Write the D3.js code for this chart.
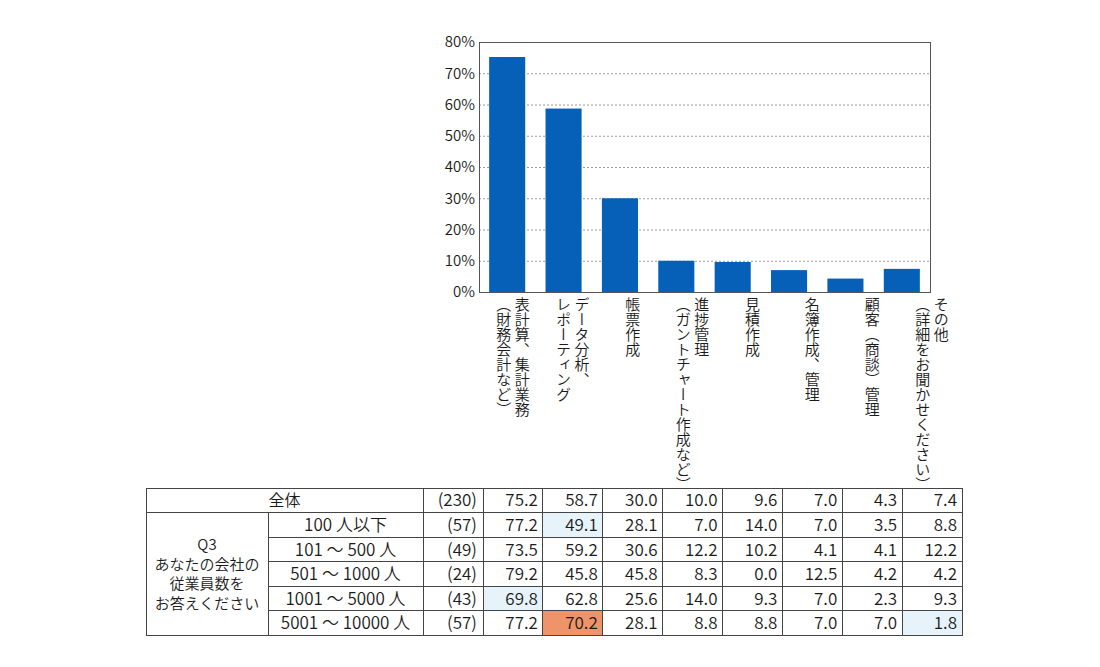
<!DOCTYPE html>
<html>
<head>
<meta charset="utf-8">
<script src="https://cdn.jsdelivr.net/npm/d3@7"></script>
<style>
  body { margin: 0; background: #fff; }
  svg text { font-family: "Noto Sans CJK JP", "Noto Sans", sans-serif; fill: #1a1a1a; font-weight: 350; }
</style>
</head>
<body>
<svg id="chart" width="1100" height="667"></svg>
<script>
// ── données ───────────────────────────────────────────────
const categories = [
  ['表計算、集計業務', '（財務会計など）'],
  ['データ分析、', 'レポーティング'],
  ['帳票作成'],
  ['進捗管理', '（ガントチャート作成など）'],
  ['見積作成'],
  ['名簿作成、管理'],
  ['顧客（商談）管理'],
  ['その他', '（詳細をお聞かせください）']
];
const overall = [75.2, 58.7, 30.0, 10.0, 9.6, 7.0, 4.3, 7.4];
const overallN = 230;
const yTicks = [0, 10, 20, 30, 40, 50, 60, 70, 80];

const groupTitle = ['Q3', 'あなたの会社の', '従業員数を', 'お答えください'];
const groups = ['100 人以下', '101 ～ 500 人', '501 ～ 1000 人', '1001 ～ 5000 人', '5001 ～ 10000 人'];
const groupN = [57, 49, 24, 43, 57];
const groupValues = [
  [77.2, 49.1, 28.1,  7.0, 14.0,  7.0, 3.5,  8.8],
  [73.5, 59.2, 30.6, 12.2, 10.2,  4.1, 4.1, 12.2],
  [79.2, 45.8, 45.8,  8.3,  0.0, 12.5, 4.2,  4.2],
  [69.8, 62.8, 25.6, 14.0,  9.3,  7.0, 2.3,  9.3],
  [77.2, 70.2, 28.1,  8.8,  8.8,  7.0, 7.0,  1.8]
];
// [ligne de groupe, colonne, 'high' | 'low']
const marked = [[0, 1, 'low'], [3, 0, 'low'], [4, 7, 'low'], [4, 1, 'high']];

// ── graphique ─────────────────────────────────────────────
const svg = d3.select('#chart');
const plot = { x0: 479, x1: 930, y0: 42, y1: 292 };

const x = d3.scaleBand().domain(d3.range(overall.length)).range([plot.x0, plot.x1]).paddingInner(0.36).paddingOuter(0.18);
const y = d3.scaleLinear().domain([0, 80]).range([plot.y1, plot.y0]);

// Grille pointillée
svg.append('g').selectAll('line').data(yTicks.filter(t => t > 0 && t < 80)).enter().append('line')
  .attr('x1', plot.x0).attr('x2', plot.x1)
  .attr('y1', d => y(d) + 0.5).attr('y2', d => y(d) + 0.5)
  .attr('stroke', '#9a9a9a').attr('stroke-width', 1).attr('stroke-dasharray', '2,2');

svg.append('g').selectAll('rect').data(overall).enter().append('rect')
  .attr('x', (d, i) => x(i)).attr('width', x.bandwidth())
  .attr('y', d => y(d)).attr('height', d => y(0) - y(d))
  .attr('fill', '#0760b8');

svg.append('rect').attr('x', plot.x0 + 0.5).attr('y', plot.y0 + 0.5)
  .attr('width', plot.x1 - plot.x0).attr('height', plot.y1 - plot.y0)
  .attr('fill', 'none').attr('stroke', '#555').attr('stroke-width', 1);

const yAxis = svg.append('g').attr('transform', `translate(${plot.x0},0)`)
  .call(d3.axisLeft(y).tickValues(yTicks).tickFormat(d => d + '%').tickSize(0).tickPadding(4));
yAxis.select('.domain').remove();
yAxis.selectAll('text').attr('font-size', '15px').attr('fill', '#1a1a1a')
  .attr('font-family', '"Noto Sans CJK JP", "Noto Sans", sans-serif');

// ── tableau ───────────────────────────────────────────────
const tb = { x0: 146, xg: 268, xs: 423, xn: 483, x1: 962, y0: 488, y1: 635.5 };
const col = d3.scaleBand().domain(d3.range(overall.length)).range([tb.xn, tb.x1]);
const row = d3.scaleBand().domain(d3.range(groups.length + 1)).range([tb.y0, tb.y1]);
const fills = { high: '#ef936b', low: '#e7f3fb' };

// Étiquettes verticales, centrées sur les colonnes du tableau
categories.forEach((lines, i) => {
  const cx = col(i) + col.bandwidth() / 2;
  const gap = 18.5;
  lines.forEach((t, j) => {
    const lx = cx + (lines.length - 1) * gap / 2 - j * gap;
    svg.append('text').attr('x', lx).attr('y', 297)
      .style('writing-mode', 'vertical-rl')
      .attr('font-size', '15px').text(t);
  });
});

// Fonds surlignés
svg.append('g').selectAll('rect').data(marked).enter().append('rect')
  .attr('x', d => col(d[1])).attr('width', col.bandwidth())
  .attr('y', d => row(d[0] + 1)).attr('height', row.bandwidth())
  .attr('fill', d => fills[d[2]]);

// Traits
const lines = svg.append('g').attr('stroke', '#444').attr('stroke-width', 1).attr('shape-rendering', 'crispEdges');
lines.append('rect').attr('x', tb.x0).attr('y', tb.y0).attr('width', tb.x1 - tb.x0).attr('height', tb.y1 - tb.y0).attr('fill', 'none');
d3.range(1, groups.length + 1).forEach(r => {
  lines.append('line').attr('x1', r === 1 ? tb.x0 : tb.xg).attr('x2', tb.x1).attr('y1', row(r)).attr('y2', row(r));
});
lines.append('line').attr('x1', tb.xg).attr('x2', tb.xg).attr('y1', row(1)).attr('y2', tb.y1);
[tb.xs].concat(d3.range(overall.length).map(i => col(i)))
  .forEach(cx => lines.append('line').attr('x1', cx).attr('x2', cx).attr('y1', tb.y0).attr('y2', tb.y1));

const cellText = (tx, ty, t, anchor, size) => svg.append('text').attr('x', tx).attr('y', ty)
  .attr('dy', '0.36em').attr('text-anchor', anchor).attr('font-size', size || '17px').text(t);

const rowMid = r => row(r) + row.bandwidth() / 2;

// Ligne « 全体 »
cellText((tb.x0 + tb.xs) / 2, rowMid(0), '全体', 'middle', '16px');
cellText(tb.xn - 6, rowMid(0), `(${overallN})`, 'end');
overall.forEach((v, i) => cellText(col(i) + col.bandwidth() - 5, rowMid(0), v.toFixed(1), 'end'));

// Groupe Q3
const gMid = (row(1) + tb.y1) / 2;
groupTitle.forEach((t, j) => cellText((tb.x0 + tb.xg) / 2, gMid + (j - 1.5) * 19.5, t, 'middle', '15px'));

groups.forEach((g, r) => {
  cellText((tb.xg + tb.xs) / 2, rowMid(r + 1), g, 'middle');
  cellText(tb.xn - 6, rowMid(r + 1), `(${groupN[r]})`, 'end');
  groupValues[r].forEach((v, i) => cellText(col(i) + col.bandwidth() - 5, rowMid(r + 1), v.toFixed(1), 'end'));
});
</script>
</body>
</html>
